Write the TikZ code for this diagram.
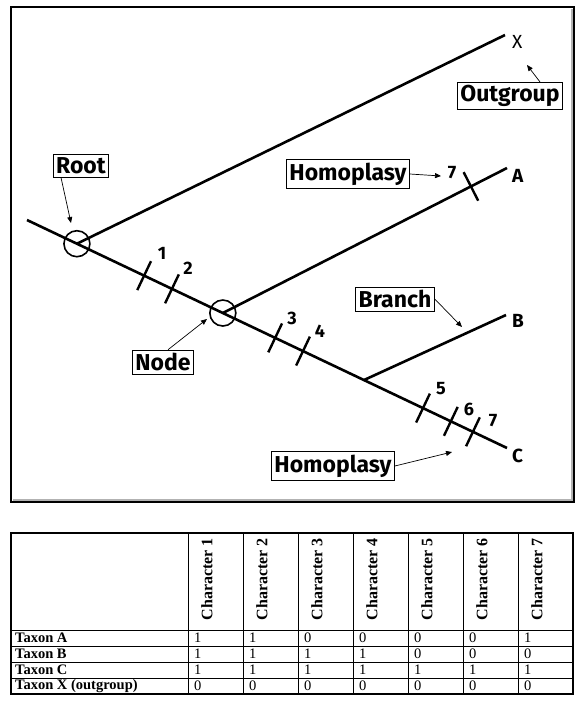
\documentclass[tikz,border=0pt]{standalone}
\usepackage{fontspec}
\setmainfont{Liberation Serif}
\newfontfamily\tagfont{Fira Sans}
\usetikzlibrary{arrows.meta,calc,positioning}

\tikzset{
  branch/.style={line width=2.6pt},
  tickmark/.style={line width=2.4pt},
  ring/.style={draw,circle,line width=1.6pt,minimum size=26pt,inner sep=0pt},
  tagbox/.style={draw,line width=0.7pt,fill=white,inner sep=3pt,
    font=\tagfont\bfseries\fontsize{23}{23}\selectfont},
  pointer/.style={line width=0.7pt,-{Triangle[length=6pt,width=5pt]}},
  tiplabel/.style={anchor=west,inner sep=0pt,font=\tagfont\bfseries\fontsize{19}{19}\selectfont},
  charlabel/.style={inner sep=0pt,font=\tagfont\bfseries\fontsize{18}{18}\selectfont},
  cell/.style={anchor=west,inner sep=0pt,font=\fontsize{14.5}{14.5}\selectfont},
}

\begin{document}
\begin{tikzpicture}[x=1pt,y=-1pt]
\useasboundingbox (0,0) rectangle (578,705);

% frame round the tree
\draw[gray!60,line width=1.5pt] (572,9) -- (572,500) -- (13,500);
\draw[line width=2pt] (11,7) rectangle (574,502);

% main line and its circles
\coordinate (start) at (27,220);
\coordinate (tipC) at (507,448);
\coordinate (tipX) at (505,35);
\coordinate (tipA) at (507,168);
\coordinate (tipB) at (506,315);
\draw[branch] (start) -- (tipC);
\node[ring] (root) at ($(start)!0.104!(tipC)$) {};
\node[ring] (split) at ($(start)!0.408!(tipC)$) {};
\coordinate (fork) at ($(start)!0.702!(tipC)$);
\draw[branch] (root.center) -- (tipX);
\draw[branch] (split.center) -- (tipA);
\draw[branch] (fork) -- (tipB);

% tips
\node[tiplabel,font=\tagfont\fontsize{19}{19}\selectfont] (labX) at (512,42) {X};
\node[tiplabel] (labA) at (512,176) {A};
\node[tiplabel] (labB) at (512,321) {B};
\node[tiplabel] (labC) at (512,456) {C};

% character changes on the main line
\foreach \f/\n in {0.244/1,0.302/2,0.517/3,0.575/4,0.825/5,0.883/6,0.929/7}{
  \coordinate (t\n) at ($(start)!\f!(tipC)$);
  \draw[tickmark] ($(t\n)!16pt!90:(tipC)$) -- ($(t\n)!16pt!-90:(tipC)$);
}
\coordinate (tA) at ($(split.center)!0.873!(tipA)$);
\draw[tickmark] ($(tA)!16pt!90:(tipA)$) -- ($(tA)!16pt!-90:(tipA)$);

\node[charlabel] (c1) at (162,253) {1};
\node[charlabel] (c2) at (188,268) {2};
\node[charlabel] (c3) at (292,318) {3};
\node[charlabel] (c4) at (320,331) {4};
\node[charlabel] (c5) at (441,389) {5};
\node[charlabel] (c6) at (469,409) {6};
\node[charlabel] (c7) at (493,421) {7};
\node[charlabel] (c7A) at (452,173) {7};

% boxed terms
\node[tagbox] (rootbox) at (81,166) {Root};
\node[tagbox] (outbox) at (510,96) {Outgroup};
\node[tagbox] (homtop) at (348,174) {Homoplasy};
\node[tagbox] (nodebox) at (163,362) {Node};
\node[tagbox] (branchbox) at (395,299) {Branch};
\node[tagbox] (homlow) at (333,466) {Homoplasy};

\coordinate (toRoot) at (71,223);
\coordinate (toX) at (527,65);
\coordinate (toSeven) at (441,176);
\coordinate (toSplit) at (207,319);
\coordinate (toB) at (462,327);
\coordinate (toC) at (452,452);
\draw[pointer] (rootbox.south) ++(-20,0) -- (toRoot);
\draw[pointer] (outbox.north) ++(30,0) -- (toX);
\draw[pointer] (homtop.east) -- (toSeven);
\draw[pointer] (nodebox.north) ++(5,0) -- (toSplit);
\draw[pointer] (branchbox.east) -- (toB);
\draw[pointer] (homlow.east) -- (toC);

% character table
\draw[line width=1.6pt] (11,533) rectangle (573,694);
\foreach \x in {188,243,...,518}
  \draw[line width=0.7pt] (\x,533) -- (\x,694);
\foreach \y in {630,646,662,678}
  \draw[line width=0.7pt] (11,\y) -- (573,\y);
\foreach \c [count=\i from 0] in {1,...,7}
  \node[cell,rotate=90,anchor=east,font=\fontsize{16}{16}\selectfont\bfseries]
    (head\c) at (188+55*\i+19,538) {Character \c};
\foreach \y/\taxon/\vals in {638/Taxon A/{1,1,0,0,0,0,1},
    654/Taxon B/{1,1,1,1,0,0,0},
    670/Taxon C/{1,1,1,1,1,1,1},
    686/Taxon X (outgroup)/{0,0,0,0,0,0,0}}{
  \node[cell,font=\fontsize{14.5}{14.5}\selectfont\bfseries] at (15,\y) {\taxon};
  \foreach \v [count=\i from 0] in \vals
    \node[cell] at (188+55*\i+6,\y) {\v};
}
\end{tikzpicture}
\end{document}
